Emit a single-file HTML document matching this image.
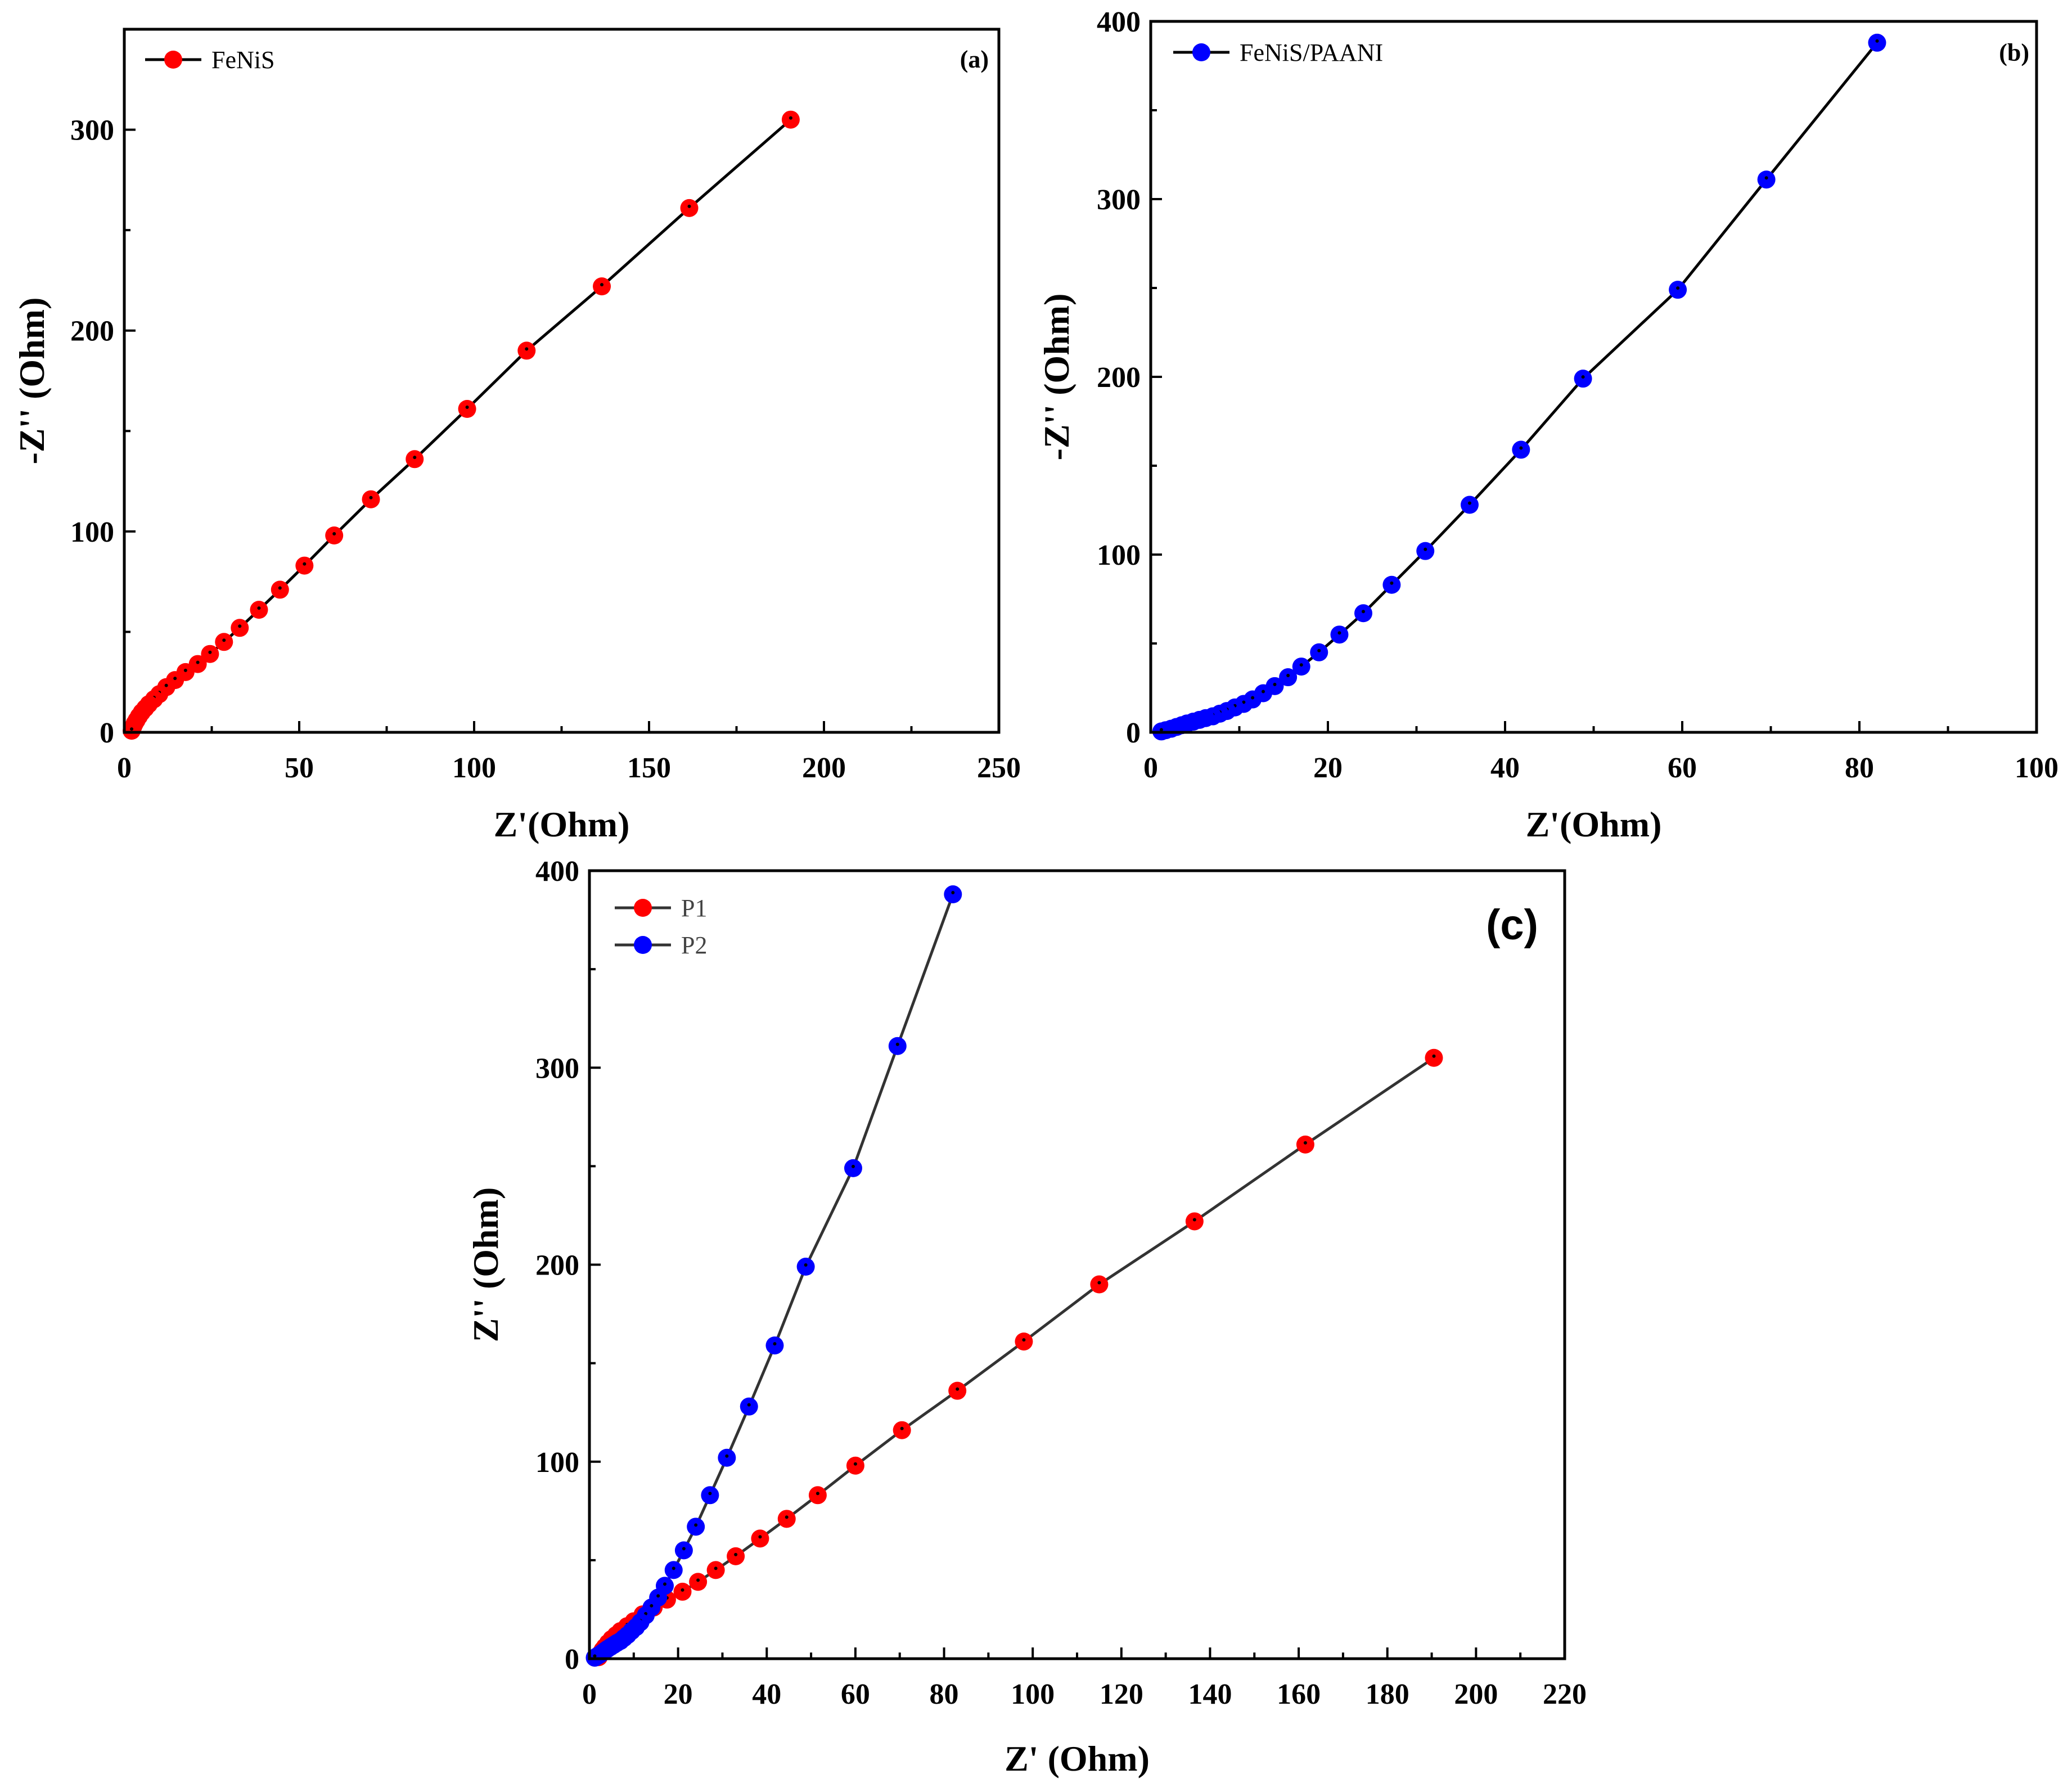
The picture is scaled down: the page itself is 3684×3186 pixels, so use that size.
<!DOCTYPE html>
<html><head><meta charset="utf-8"><style>
html,body{margin:0;padding:0;background:#fff}
svg{display:block}
</style></head><body>
<svg id="fig" width="3684" height="3186" viewBox="0 0 3684 3186" xmlns="http://www.w3.org/2000/svg">
<rect width="3684" height="3186" fill="#fff"/>
</svg>
<script>
// ---- data ----
const p1X = [190.5,161.5,136.5,115,98,83,70.5,60,51.5,44.5,38.5,33,28.5,24.5,21,17.5,14.5,12,10,8.5,7,6,5,4.2,3.5,3,2.6,2.3,2.1];
const p1Y = [305,261,222,190,161,136,116,98,83,71,61,52,45,39,34,30,26,22.5,19,16.5,14,12,10,8,6,4.5,3,1.8,0.8];
const p2X = [82,69.5,59.5,48.8,41.8,36,31,27.2,24,21.3,19,17,15.5,14,12.7,11.5,10.5,9.5,8.6,7.8,7,6.2,5.5,4.8,4.1,3.5,2.9,2.3,1.7,1.2];
const p2Y = [388,311,249,199,159,128,102,83,67,55,45,37,31,26,22,18.5,16,14,12,10.5,9,8,7,6,5,4,3,2,1.2,0.5];
const aXTicks = [0,50,100,150,200,250];
const aYTicks = [0,100,200,300];
const bXTicks = [0,20,40,60,80,100];
const bYTicks = [0,100,200,300,400];
const cXTicks = [0,20,40,60,80,100,120,140,160,180,200,220];
const cYTicks = [0,100,200,300,400];

const NS = "http://www.w3.org/2000/svg";
const svg = document.getElementById('fig');
function el(tag, attrs, parent, text){
  const e = document.createElementNS(NS, tag);
  for (const k in attrs) e.setAttribute(k, attrs[k]);
  if (text !== undefined) e.textContent = text;
  (parent || svg).appendChild(e);
  return e;
}

function panel(cfg){
  const g = el('g', {});
  
  
  const {L,R,T,B,xmax,ymax} = cfg;
  const sx = v => L + v/xmax*(R-L);
  const sy = v => B - v/ymax*(B-T);
  const font = '"Liberation Serif", serif';
  for (let i=0;i<cfg.xTicks.length-1;i++){
    const m = (cfg.xTicks[i]+cfg.xTicks[i+1])/2;
    const t = el('line',{x1:sx(m),x2:sx(m),y1:B,y2:B-11,stroke:'#000','stroke-width':4},g);
    
    
  }
  for (let i=0;i<cfg.yTicks.length-1;i++){
    const m = (cfg.yTicks[i]+cfg.yTicks[i+1])/2;
    const t = el('line',{x1:L,x2:L+11,y1:sy(m),y2:sy(m),stroke:'#000','stroke-width':4},g);
    
    
  }
  if (cfg.yTicks[cfg.yTicks.length-1] < ymax){
    const m = cfg.yTicks[cfg.yTicks.length-1] + (cfg.yTicks[1]-cfg.yTicks[0])/2;
    if (m < ymax){
      const t = el('line',{x1:L,x2:L+11,y1:sy(m),y2:sy(m),stroke:'#000','stroke-width':4},g);
      
      
    }
  }
  cfg.xTicks.forEach(v=>{
    const t = el('line',{x1:sx(v),x2:sx(v),y1:B,y2:B-20,stroke:'#000','stroke-width':4},g);
    
    
    const lb = el('text',{x:sx(v),y:B+80,'text-anchor':'middle','font-family':font,'font-weight':'bold','font-size':cfg.tickFs},g,String(v));
    
    
  });
  cfg.yTicks.forEach(v=>{
    const t = el('line',{x1:L,x2:L+20,y1:sy(v),y2:sy(v),stroke:'#000','stroke-width':4},g);
    
    
    const lb = el('text',{x:L-18,y:sy(v)+18,'text-anchor':'end','font-family':font,'font-weight':'bold','font-size':cfg.tickFs},g,String(v));
    
    
  });
  cfg.series.forEach(s=>{
    const pts = s.x.map((v,i)=>sx(v)+','+sy(s.y[i])).join(' ');
    const pl = el('polyline',{points:pts,fill:'none',stroke:cfg.lineColor,'stroke-width':5},g);
    
    
    s.x.forEach((v,i)=>{
      const c = el('circle',{cx:sx(v),cy:sy(s.y[i]),r:cfg.r,fill:s.color},g);
      
      
      const d = el('circle',{cx:sx(v),cy:sy(s.y[i])-3,r:3,fill:'#000'},g);
      
      
    });
  });
  const fr = el('rect',{x:L,y:T,width:R-L,height:B-T,fill:'none',stroke:'#000','stroke-width':5},g);
  
  
  const xt = el('text',{x:(L+R)/2,y:cfg.xTitleY,'text-anchor':'middle','font-family':font,'font-weight':'bold','font-size':cfg.titleFs},g,cfg.xTitle);
  
  
  const yt = el('text',{x:0,y:0,'text-anchor':'middle','font-family':font,'font-weight':'bold','font-size':cfg.titleFs,transform:`translate(${cfg.yTitleX},${(T+B)/2}) rotate(-90)`},g,cfg.yTitle);
  
  
  cfg.series.forEach((s,i)=>{
    const ly = cfg.legY + i*cfg.legGap;
    const lg = el('g',{},g);
    
    
    el('line',{x1:cfg.legX,x2:cfg.legX+100,y1:ly,y2:ly,stroke:cfg.lineColor,'stroke-width':5},lg);
    el('circle',{cx:cfg.legX+50,cy:ly,r:cfg.r,fill:s.color},lg);
    el('text',{x:cfg.legX+118,y:ly+15,'font-family':font,'font-size':44,fill:cfg.legTextColor},lg,s.label);
  });
  const pl = el('text',{x:cfg.panelX,y:cfg.panelY,'text-anchor':'end','font-family':cfg.panelFont,'font-weight':'bold','font-size':cfg.panelFs},g,cfg.panelLabel);
  
  
}

panel({name:'panel-a',L:221,R:1776,T:52,B:1302,xmax:250,ymax:350,xTicks:aXTicks,yTicks:aYTicks,
  tickFs:52,titleFs:64,lineColor:'#000',r:16,
  series:[{name:'fenis',label:'FeNiS',x:p1X,y:p1Y,color:'#f00'}],
  xTitle:"Z'(Ohm)",xTitleY:1487,yTitle:"-Z'' (Ohm)",yTitleX:78,
  legX:258,legY:106,legGap:60,legTextColor:'#000',panelX:1758,panelY:120,panelLabel:'(a)',panelFont:'"Liberation Serif", serif',panelFs:44});

panel({name:'panel-b',L:2046,R:3621,T:38,B:1302,xmax:100,ymax:400,xTicks:bXTicks,yTicks:bYTicks,
  tickFs:52,titleFs:64,lineColor:'#000',r:16,
  series:[{name:'fenis-paani',label:'FeNiS/PAANI',x:p2X,y:p2Y,color:'#00f'}],
  xTitle:"Z'(Ohm)",xTitleY:1487,yTitle:"-Z'' (Ohm)",yTitleX:1900,
  legX:2086,legY:93,legGap:60,legTextColor:'#000',panelX:3608,panelY:108,panelLabel:'(b)',panelFont:'"Liberation Serif", serif',panelFs:44});

panel({name:'panel-c',L:1048,R:2782,T:1548,B:2949,xmax:220,ymax:400,xTicks:cXTicks,yTicks:cYTicks,
  tickFs:52,titleFs:64,lineColor:'#333',r:16,
  series:[{name:'p1',label:'P1',x:p1X,y:p1Y,color:'#f00'},{name:'p2',label:'P2',x:p2X,y:p2Y,color:'#00f'}],
  xTitle:"Z' (Ohm)",xTitleY:3148,yTitle:"Z'' (Ohm)",yTitleX:885,
  legX:1093,legY:1614,legGap:66,legTextColor:'#444',panelX:2735,panelY:1670,panelLabel:'(c)',panelFont:'"Liberation Sans", sans-serif',panelFs:76});
</script>
</body></html>
